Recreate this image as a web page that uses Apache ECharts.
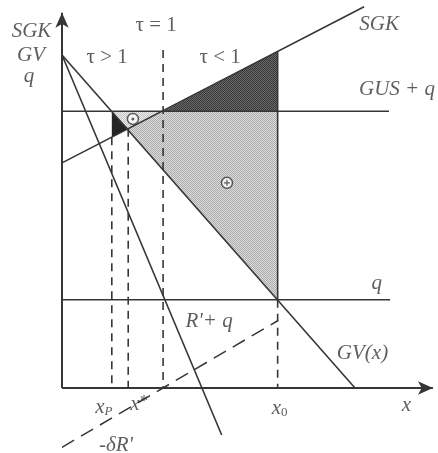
<!DOCTYPE html>
<html>
<head>
<meta charset="utf-8">
<style>
  html, body { margin: 0; padding: 0; background: #ffffff; }
  #chart { width: 438px; height: 453px; }
</style>
<script src="https://cdn.jsdelivr.net/npm/echarts@6/dist/echarts.min.js"></script>
</head>
<body>
<div id="chart"></div>
<script>
// Horizontal schedules
const qLevel = 2.65;      // q
const gusLevel = 8.31;    // GUS + q

// Straight schedules, as [x, y] end points
const gvLine = [[0, 10], [10, 0]];            // GV(x)
const rqLine = [[0, 10], [5.45, -1.41]];      // R' + q
const sgkLine = [[0, 6.76], [10.31, 11.45]];  // SGK
const deltaRLine = [[0, -1.78], [7.36, 2.02]]; // -δR'
const gusLine = [[0, gusLevel], [11.16, gusLevel]];
const qLine = [[0, qLevel], [11.2, qLevel]];

// Marked quantities on the x axis: x_P, x*, τ = 1, x_0
const markNames = ['xP', 'xStar', 'tau1', 'x0'];
const markX = [1.7, 2.26, 3.45, 7.36];
const tauTop = 10.15;

// Axis extents (x axis end, y axis end)
const axisEnds = [12.66, 11.27];

// Welfare signs: ⊙ (small loss area) and ⊕ (gain area)
const signNames = ['odot', 'oplus'];
const signAt = [[2.42, 8.08], [5.63, 6.16]];

// ---------------------------------------------------------------
const M = {};
markNames.forEach((n, i) => { M[n] = markX[i]; });

function yAt(seg, x) {
  const [[x1, y1], [x2, y2]] = seg;
  return y1 + (y2 - y1) * (x - x1) / (x2 - x1);
}
function xAt(seg, y) {
  const [[x1, y1], [x2, y2]] = seg;
  return x1 + (x2 - x1) * (y - y1) / (y2 - y1);
}

const ink = '#363636';

// 2x2 checker used as a stipple fill
function stipple(a, b) {
  const c = document.createElement('canvas');
  c.width = 2; c.height = 2;
  const g = c.getContext('2d');
  g.fillStyle = b; g.fillRect(0, 0, 2, 2);
  g.fillStyle = a; g.fillRect(0, 0, 1, 1); g.fillRect(1, 1, 1, 1);
  return { image: c, repeat: 'repeat' };
}

const xpGV = xAt(gvLine, gusLevel);
const xStarY = yAt(sgkLine, M.xStar);

// Shaded areas
const areas = [
  { pts: [[xpGV, gusLevel], [M.x0, gusLevel], [M.x0, yAt(gvLine, M.x0)]], fill: stipple('#acacac', '#dcdcdc') },
  { pts: [[xpGV, gusLevel], [M.tau1, gusLevel], [M.xStar, xStarY]], fill: stipple('#c4c4c4', '#ececec') },
  { pts: [[M.tau1, gusLevel], [M.x0, yAt(sgkLine, M.x0)], [M.x0, gusLevel]], fill: stipple('#383838', '#6a6a6a') },
  { pts: [[M.xP, yAt(gvLine, M.xP)], [M.xP, yAt(sgkLine, M.xP)], [M.xStar, xStarY]], fill: '#242424' }
];

function seg(data, width, dash, z) {
  return {
    type: 'line', data: data, showSymbol: false, silent: true, z: z || 3,
    lineStyle: { color: ink, width: width, type: dash || 'solid' },
    clip: false
  };
}

const dashV = [8, 6];
const series = [];

series.push({
  type: 'custom', clip: false, silent: true, z: 1,
  data: areas.map((a, i) => [a.pts[0][0], a.pts[0][1], i]),
  renderItem: function (params, api) {
    const a = areas[params.dataIndex];
    return {
      type: 'polygon',
      shape: { points: a.pts.map(p => api.coord(p)) },
      style: { fill: a.fill, stroke: null }
    };
  }
});

series.push(seg(gvLine, 1.6));
series.push(seg(rqLine, 1.6));
series.push(seg(sgkLine, 1.6));
series.push(seg(gusLine, 1.6));
series.push(seg(qLine, 1.6));
series.push(seg(deltaRLine, 1.5, [14, 8]));
series.push(seg([[M.xP, yAt(sgkLine, M.xP)], [M.xP, 0]], 1.6, dashV));
series.push(seg([[M.xStar, xStarY], [M.xStar, 0]], 1.6, dashV));
series.push(seg([[M.tau1, tauTop], [M.tau1, 0]], 1.6, dashV));
series.push(seg([[M.x0, yAt(sgkLine, M.x0)], [M.x0, qLevel]], 1.6));
series.push(seg([[M.x0, qLevel], [M.x0, 0]], 1.6, dashV));

// Coordinate axes with arrow heads
series.push({
  type: 'line', data: [], silent: true, z: 4,
  markLine: {
    silent: true, animation: false,
    symbol: ['none', 'arrow'], symbolSize: [10, 15],
    label: { show: false },
    lineStyle: { color: ink, width: 2, type: 'solid' },
    data: [
      [{ coord: [0, 0] }, { coord: [0, axisEnds[1]] }],
      [{ coord: [0, 0] }, { coord: [axisEnds[0], 0] }]
    ]
  }
});

// Welfare signs
series.push({
  type: 'scatter', silent: true, z: 5,
  data: signAt, symbol: 'circle', symbolSize: 11,
  itemStyle: { color: '#ffffff', borderColor: ink, borderWidth: 1.5 }
});
series.push({
  type: 'scatter', silent: true, z: 6,
  data: [signAt[0]], symbol: 'circle', symbolSize: 3,
  itemStyle: { color: ink }
});
series.push({
  type: 'scatter', silent: true, z: 6,
  data: [signAt[1]], symbol: 'path://M2,0h1v2h2v1h-2v2h-1v-2h-2v-1h2z', symbolSize: 6,
  itemStyle: { color: ink }
});

// Text annotations
const it = { fontFamily: 'Liberation Serif', fontStyle: 'italic', fontSize: 21, color: ink };
const up = { fontFamily: 'Liberation Serif', fontStyle: 'normal', fontSize: 21, color: ink };
const sub = { fontFamily: 'Liberation Serif', fontStyle: 'italic', fontSize: 13, color: ink, verticalAlign: 'bottom', padding: [9, 0, 0, 0] };
const sup = { fontFamily: 'Liberation Serif', fontStyle: 'normal', fontSize: 17, color: ink, verticalAlign: 'top' };

function note(at, text, offset, style, rich) {
  return {
    value: at,
    label: Object.assign({ show: true, position: 'inside', formatter: text, offset: offset, rich: rich }, style)
  };
}
const yTop = [0, axisEnds[1]];
const tauAt = [M.tau1, tauTop];
const notes = [
  note(yTop, 'SGK', [-30.5, 19], it),
  note(yTop, 'GV', [-31, 43], it),
  note(yTop, 'q', [-33, 64], it),
  note(tauAt, 'τ = 1', [-7, -25], up),
  note(tauAt, 'τ > 1', [-56, 7.5], up),
  note(tauAt, 'τ < 1', [57, 7.5], up),
  note(sgkLine[1], 'SGK', [15, 18], it),
  note(gusLine[1], 'GUS + q', [8, -22], it),
  note(qLine[1], 'q', [-13.5, -16], it),
  note(gvLine[1], 'GV(x)', [7.5, -35], it),
  note([M.tau1, qLevel], "R'+ q", [46, 22], it),
  note([axisEnds[0], 0], 'x', [-26.5, 17], it),
  note([M.xP, 0], '{v|x}{s|P}', [-8, 19], it, { v: it, s: sub }),
  note([M.xStar, 0], '{v|x}{t|*}', [11, 16], it, { v: it, t: sup }),
  note([M.x0, 0], '{v|x}{s|0}', [2, 20], it, { v: it, s: Object.assign({}, sub, { fontStyle: 'normal' }) }),
  note(deltaRLine[0], "-δR'", [54, -2], it)
];
series.push({
  type: 'scatter', silent: true, z: 7,
  symbolSize: 1, itemStyle: { color: 'rgba(0,0,0,0)' },
  data: notes
});

const chart = echarts.init(document.getElementById('chart'), null, { renderer: 'canvas' });
chart.setOption({
  animation: false,
  backgroundColor: '#ffffff',
  grid: { left: 3.4, right: 0.96, top: 1.72, bottom: 1.73, outerBoundsMode: 'none', containLabel: false },
  xAxis: { type: 'value', min: -2, max: 12.8, show: false },
  yAxis: { type: 'value', min: -1.9, max: 11.6, show: false },
  series: series
});
</script>
</body>
</html>
